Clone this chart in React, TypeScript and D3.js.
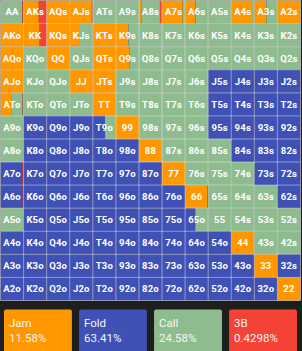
import React from "react";
import * as d3 from "d3";

// poker range grid: rows/cols by rank, pure actions + mixed cells
const ranks = ["A", "K", "Q", "J", "T", "9", "8", "7", "6", "5", "4", "3", "2"];
const actions = ["Jam", "Fold", "Call", "3B"];
const actionColors = ["#ff9800", "#3f51b5", "#8fbc8f", "#f44336"];
const legendPct = ["11.58%", "63.41%", "24.58%", "0.4298%"];

// J = jam, F = fold, C = call (pure strategies)
const pureRows = [
  "CJJJCCCJJCJJJ",
  "JJJJJJCCCCCCC",
  "JCJCJJCCCCCCC",
  "JCCJJCCCCFFFF",
  "JCCCJCCCCFFFF",
  "CFFFFJCCCFFFF",
  "CFFFFFJCCCFFF",
  "FFFFFFFJCCCFF",
  "FFFFFFFFJCCCF",
  "CFFFFFFFFCCCC",
  "FFFFFFFFFFJCC",
  "FFFFFFFFFFFJF",
  "FFFFFFFFFFFFJ",
];

// mixed hands: [jam, fold, call, 3b]
const mixedHands: [string, number[]][] = [
  ["AA", [0, 0, 0.95, 0.05]],
  ["AKs", [0.66, 0, 0, 0.34]],
  ["AJs", [0.96, 0, 0, 0.04]],
  ["A8s", [0.12, 0, 0.79, 0.09]],
  ["A7s", [0.9, 0, 0.1, 0]],
  ["A6s", [0.45, 0, 0.55, 0]],
  ["A4s", [0.9, 0, 0.1, 0]],
  ["A3s", [0.52, 0, 0.48, 0]],
  ["KK", [0.7, 0, 0, 0.3]],
  ["KJs", [0.4, 0, 0.6, 0]],
  ["K9s", [0.54, 0, 0.46, 0]],
  ["Q9s", [0.6, 0, 0.4, 0]],
  ["ATo", [0.46, 0, 0.5, 0.04]],
  ["T9o", [0, 0.53, 0.47, 0]],
  ["A7o", [0, 0.95, 0, 0.05]],
  ["A6o", [0, 0.96, 0, 0.04]],
  ["66", [0.97, 0, 0, 0.03]],
  ["65o", [0, 0.44, 0.56, 0]],
];

const W = 302;
const H = 351;

function handName(i: number, j: number) {
  if (i === j) return ranks[i] + ranks[j];
  if (j > i) return ranks[i] + ranks[j] + "s";
  return ranks[j] + ranks[i] + "o";
}

export default function App() {
  const mixed = new Map(mixedHands);
  const pureIdx: Record<string, number> = { J: 0, F: 1, C: 2 };

  const pos = d3.scaleLinear().domain([0, 13]).range([0.5, 300.5]);
  const step = pos(1) - pos(0);

  const cells: any[] = [];
  ranks.forEach((_, i) => {
    ranks.forEach((__, j) => {
      const name = handName(i, j);
      let freqs = mixed.get(name);
      if (!freqs) {
        freqs = [0, 0, 0, 0];
        freqs[pureIdx[pureRows[i][j]]] = 1;
      }
      cells.push({ i, j, name, freqs });
    });
  });

  const legendX = d3.scaleBand<string>().domain(actions).range([4, 297]).paddingInner(0.095);

  return (
    <svg width={W} height={H} style={{ position: "absolute", left: 0, top: 0, display: "block" }}>
      <rect x={0} y={0} width={W} height={H} fill="#1e1e1e" />
      {cells.map((c) => {
        const x0 = pos(c.j);
        const y0 = pos(c.i);
        const seg = d3.scaleLinear().domain([0, 1]).range([x0, x0 + step]);
        let acc = 0;
        return (
          <g key={c.name}>
            {c.freqs.map((f: number, k: number) => {
              if (f <= 0) return null;
              const r = (
                <rect key={k} x={seg(acc)} y={y0} width={seg(acc + f) - seg(acc)} height={step} fill={actionColors[k]} />
              );
              acc += f;
              return r;
            })}
            <text
              x={x0 + step / 2}
              y={y0 + step / 2}
              dy="0.36em"
              textAnchor="middle"
              fill="#fff"
              fontFamily="Roboto, sans-serif"
              fontWeight="bold"
              fontSize={9.5}
              letterSpacing={0.2}
            >
              {c.name}
            </text>
          </g>
        );
      })}
      {d3.range(14).map((k) => (
        <g key={"g" + k}>
          <line x1={pos(k)} x2={pos(k)} y1={pos(0)} y2={pos(13)} stroke="rgba(255,255,255,0.45)" strokeWidth={1} />
          <line y1={pos(k)} y2={pos(k)} x1={pos(0)} x2={pos(13)} stroke="rgba(255,255,255,0.45)" strokeWidth={1} />
        </g>
      ))}
      {actions.map((a, k) => (
        <g key={a}>
          <rect x={legendX(a)} y={309.5} width={legendX.bandwidth()} height={50} rx={2} fill={actionColors[k]} />
          <text x={(legendX(a) as number) + 5} y={326.5} fill="#f5f5f5" fontFamily="Roboto, sans-serif" fontSize={11.5}>
            {a}
          </text>
          <text x={(legendX(a) as number) + 5} y={341.7} fill="#f5f5f5" fontFamily="Roboto, sans-serif" fontSize={11.5}>
            {legendPct[k]}
          </text>
        </g>
      ))}
    </svg>
  );
}
